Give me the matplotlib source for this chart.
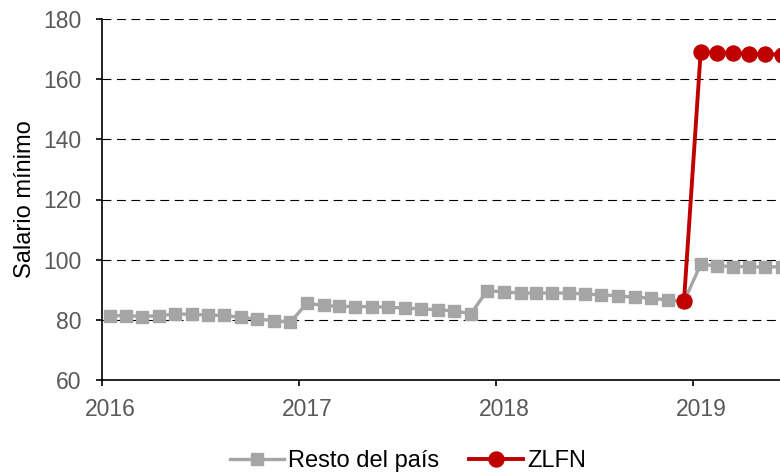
import pandas as pd
import matplotlib
matplotlib.use('Agg')
import matplotlib.pyplot as plt
import matplotlib.dates as mdates

plt.rcParams['font.family'] = ['Liberation Sans', 'DejaVu Sans']

# monthly series, Jan 2016 - Jun 2019
months = pd.period_range('2016-01', '2019-06', freq='M')
resto = [81.4, 81.4, 81.1, 81.4, 81.9, 81.9, 81.5, 81.5, 80.8, 80.3, 79.7, 79.2,
         85.5, 84.8, 84.5, 84.4, 84.4, 84.2, 83.9, 83.7, 83.3, 83.0, 82.0, 89.7,
         89.3, 88.9, 88.9, 88.9, 88.9, 88.6, 88.3, 88.0, 87.5, 87.2, 86.6, 86.1,
         98.4, 98.0, 97.7, 97.7, 97.5, 97.7]
zlfn_months = pd.period_range('2018-12', '2019-06', freq='M')
zlfn = [86.1, 169.1, 168.8, 168.8, 168.4, 168.4, 168.1]
years = [2016, 2017, 2018, 2019]

# points sit in the middle of their month slot
x_resto = months.to_timestamp() + pd.Timedelta(days=14)
x_zlfn = zlfn_months.to_timestamp() + pd.Timedelta(days=14)

fig = plt.figure(figsize=(7.8, 4.74), dpi=100)
W, H = 780, 474
x0, x1 = pd.Timestamp('2016-01-01'), pd.Timestamp('2019-07-01')
px_per_day = 197 / 365.25
ax_w = (x1 - x0).days * px_per_day
ax = fig.add_axes([102 / W, 94 / H, ax_w / W, 361 / H])

ax.plot(x_resto, resto, color='#A5A5A5', lw=2.4, marker='s', ms=8.8,
        label='Resto del país', zorder=3)
ax.plot(x_zlfn, zlfn, color='#C00000', lw=2.8, marker='o', ms=10.8,
        label='ZLFN', zorder=4)

ax.set_xlim(x0, x1)
ax.set_ylim(60, 180)
ax.set_yticks(range(60, 181, 20))

# tick marks on Jan 1, labels centred on the January slot
ax.set_xticks([pd.Timestamp(f'{y}-01-01') for y in years])
ax.set_xticklabels([])
ax.set_xticks([pd.Timestamp(f'{y}-01-16') for y in years], minor=True)
ax.set_xticklabels([str(y) for y in years], minor=True)

for v in range(80, 181, 20):
    ax.axhline(v, color='black', lw=0.8, dashes=(8, 5), zorder=1)

for s in ['top', 'right']:
    ax.spines[s].set_visible(False)
for s in ['left', 'bottom']:
    ax.spines[s].set_linewidth(1.2)
    ax.spines[s].set_color('black')

ax.tick_params(axis='both', which='both', colors='black', labelcolor='#595959',
               labelsize=16.5, width=1.2, length=4.3, direction='out')
ax.tick_params(axis='x', which='minor', length=0, pad=13)
ax.tick_params(axis='y', pad=10.5)
ax.set_ylabel('Salario mínimo', fontsize=17, labelpad=5)

fig.legend(loc='center', bbox_to_anchor=(408 / W, 1 - 461 / H), ncol=2,
           frameon=False, fontsize=17, handlelength=2.3, handletextpad=0.17,
           columnspacing=1.27)

fig.savefig('out.png', dpi=100)
